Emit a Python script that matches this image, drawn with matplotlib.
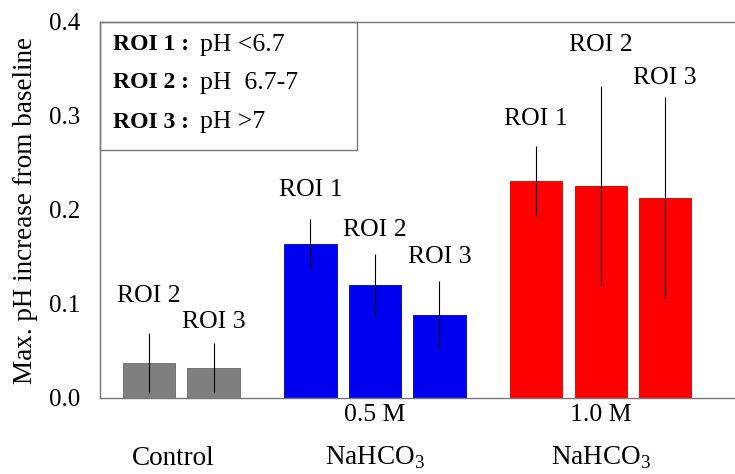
import matplotlib
matplotlib.use("Agg")
import matplotlib.pyplot as plt
from matplotlib.patches import Rectangle

plt.rcParams['font.family'] = ['Liberation Serif', 'DejaVu Serif']
plt.rcParams['mathtext.fontset'] = 'custom'
plt.rcParams['mathtext.rm'] = 'Liberation Serif'

# ---- data ----
groups = ["Control", "0.5 M\nNaHCO$_{3}$", "1.0 M\nNaHCO$_{3}$"]
bar_labels = ["ROI 2", "ROI 3", "ROI 1", "ROI 2", "ROI 3", "ROI 1", "ROI 2", "ROI 3"]
bar_group = [0, 0, 1, 1, 1, 2, 2, 2]
values = [0.037, 0.032, 0.164, 0.120, 0.088, 0.231, 0.226, 0.213]
errors = [0.032, 0.026, 0.026, 0.033, 0.036, 0.037, 0.106, 0.107]
legend_keys = ["ROI 1 :", "ROI 2 :", "ROI 3 :"]
legend_vals = ["pH <6.7", "pH  6.7-7", "pH >7"]
yticks = [0.0, 0.1, 0.2, 0.3, 0.4]

# ---- layout ----
positions = [0, 1, 2.5, 3.5, 4.5, 6, 7, 8]
label_y = [0.1085, 0.081, 0.221, 0.179, 0.150, 0.297, 0.3755, 0.340]
colors_by_group = ["#7f7f7f", "#0000f0", "#ff0000"]
edge_by_group = ["#6a6a6a", "#0000b0", "#d00000"]
group_label_x = [0.37, 3.5, 7.0]

fig = plt.figure(figsize=(7.35, 4.74), dpi=100)
ax = fig.add_axes([100/735, 76/474, 1 - 100/735, (398-22)/474])

for i, (x, v, e) in enumerate(zip(positions, values, errors)):
    g = bar_group[i]
    ax.bar(x, v, width=0.81, color=colors_by_group[g], edgecolor=edge_by_group[g],
           linewidth=0.6, zorder=2)
    ax.errorbar(x, v, yerr=e, fmt='none', ecolor='black', elinewidth=0.8,
                capsize=0, zorder=3)
    ax.text(x, label_y[i], bar_labels[i], ha='center', va='center', fontsize=18.5)

ax.set_xlim(-0.76, 9.08)
ax.set_ylim(0, 0.4)
ax.set_yticks(yticks)
ax.set_yticklabels([f"{t:.1f}" for t in yticks], fontsize=18)
ax.tick_params(axis='y', length=0, pad=14)
ax.set_xticks([])
ax.set_ylabel("Max. pH increase from baseline", fontsize=19.5, labelpad=8)

for s in ['left', 'top', 'bottom']:
    ax.spines[s].set_color('#777777')
    ax.spines[s].set_linewidth(1.0)
ax.spines['right'].set_visible(False)

# group labels
for gx, gl in zip(group_label_x, groups):
    lines = gl.split("\n")
    if len(lines) == 1:
        ax.text(gx, -0.16, lines[0], transform=ax.get_xaxis_transform(),
                ha='center', va='center', fontsize=19.5)
    else:
        ax.text(gx, -0.045, lines[0], transform=ax.get_xaxis_transform(),
                ha='center', va='center', fontsize=18.5)
        ax.text(gx, -0.16, lines[1], transform=ax.get_xaxis_transform(),
                ha='center', va='center', fontsize=19.5)

# legend box
ax.add_patch(Rectangle((0, 0.66), 0.405, 0.34, transform=ax.transAxes,
                       fill=False, edgecolor='#777777', linewidth=1.0, zorder=4,
                       clip_on=False))
rows_y = [0.939, 0.838, 0.734]
for ry, k, v in zip(rows_y, legend_keys, legend_vals):
    ax.text(0.02, ry, k, transform=ax.transAxes, ha='left', va='center',
            fontsize=17, fontweight='bold')
    ax.text(0.158, ry, v, transform=ax.transAxes, ha='left', va='center', fontsize=18.5)

fig.savefig("out.png", dpi=100)
